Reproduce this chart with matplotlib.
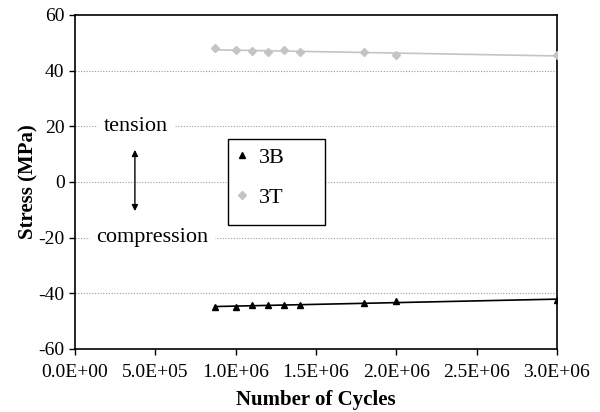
import numpy as np
import matplotlib.pyplot as plt
from matplotlib.ticker import FuncFormatter
from matplotlib.patches import Rectangle

plt.rcParams["font.family"] = ["Liberation Serif", "DejaVu Serif"]
plt.rcParams["axes.unicode_minus"] = False

# cycles and stress readings
cycles = [0.87e6, 1.0e6, 1.1e6, 1.2e6, 1.3e6, 1.4e6, 1.8e6, 2.0e6, 3.0e6]
stress_3b = [-45.0, -44.8, -44.3, -44.3, -44.2, -44.2, -43.6, -42.8, -42.4]
stress_3t = [48.0, 47.4, 47.1, 46.5, 47.4, 46.7, 46.6, 45.6, 45.6]

x_ticks = [0, 0.5e6, 1.0e6, 1.5e6, 2.0e6, 2.5e6, 3.0e6]
y_ticks = [-60, -40, -20, 0, 20, 40, 60]


def sci_fmt(v, pos):
    return "%.1E" % v


fig = plt.figure(figsize=(6, 4.12), dpi=100)
ax = fig.add_axes([0.125, 0.153, 0.803, 0.811])

x = np.array(cycles)
xl = np.array([x.min(), x.max()])
for ys, col, mk, ms, lab in [(stress_3b, "black", "^", 5, "3B"),
                             (stress_3t, "#c4c4c4", "D", 4, "3T")]:
    p = np.polyfit(x, ys, 1)
    ax.plot(xl, np.polyval(p, xl), color=col, lw=1.2, zorder=2)
    ax.plot(x, ys, linestyle="none", marker=mk, ms=ms, color=col,
            label=lab, zorder=3)

ax.set_xlim(0, 3.0e6)
ax.set_ylim(-60, 60)
ax.set_xticks(x_ticks)
ax.set_yticks(y_ticks)
ax.xaxis.set_major_formatter(FuncFormatter(sci_fmt))
ax.tick_params(direction="out", labelsize=14, length=4, width=1)
ax.tick_params(axis="x", pad=7)
for sp in ax.spines.values():
    sp.set_linewidth(1.2)

for g in [-40, -20, 0, 20, 40]:
    ax.axhline(g, color="#999999", lw=0.8, ls=(0, (1, 1.5)), zorder=1)

ax.set_xlabel("Number of Cycles", fontsize=15, fontweight="bold", labelpad=6)
ax.set_ylabel("Stress (MPa)", fontsize=15, fontweight="bold", labelpad=0)

ax.text(0.38e6, 20, "tension", fontsize=16, ha="center", va="center",
        backgroundcolor="white", zorder=4)
ax.text(0.48e6, -20, "compression", fontsize=16, ha="center", va="center",
        backgroundcolor="white", zorder=4)
ax.annotate("", xy=(0.373e6, -11.5), xytext=(0.373e6, 12.5),
            arrowprops=dict(arrowstyle="<|-|>", color="black", lw=1.0,
                            mutation_scale=9), zorder=4)

# legend box (Excel style, wide frame)
ax.add_patch(Rectangle((0.317, 0.371), 0.202, 0.258, transform=ax.transAxes,
                       facecolor="white", edgecolor="black", lw=1.0,
                       zorder=4))
leg = ax.legend(loc="upper left", bbox_to_anchor=(0.332, 0.604),
                fontsize=16, frameon=False, handlelength=0.6,
                handletextpad=0.5, labelspacing=0.9, borderpad=0,
                borderaxespad=0)
leg.set_zorder(5)

fig.savefig("out.png", dpi=100)
